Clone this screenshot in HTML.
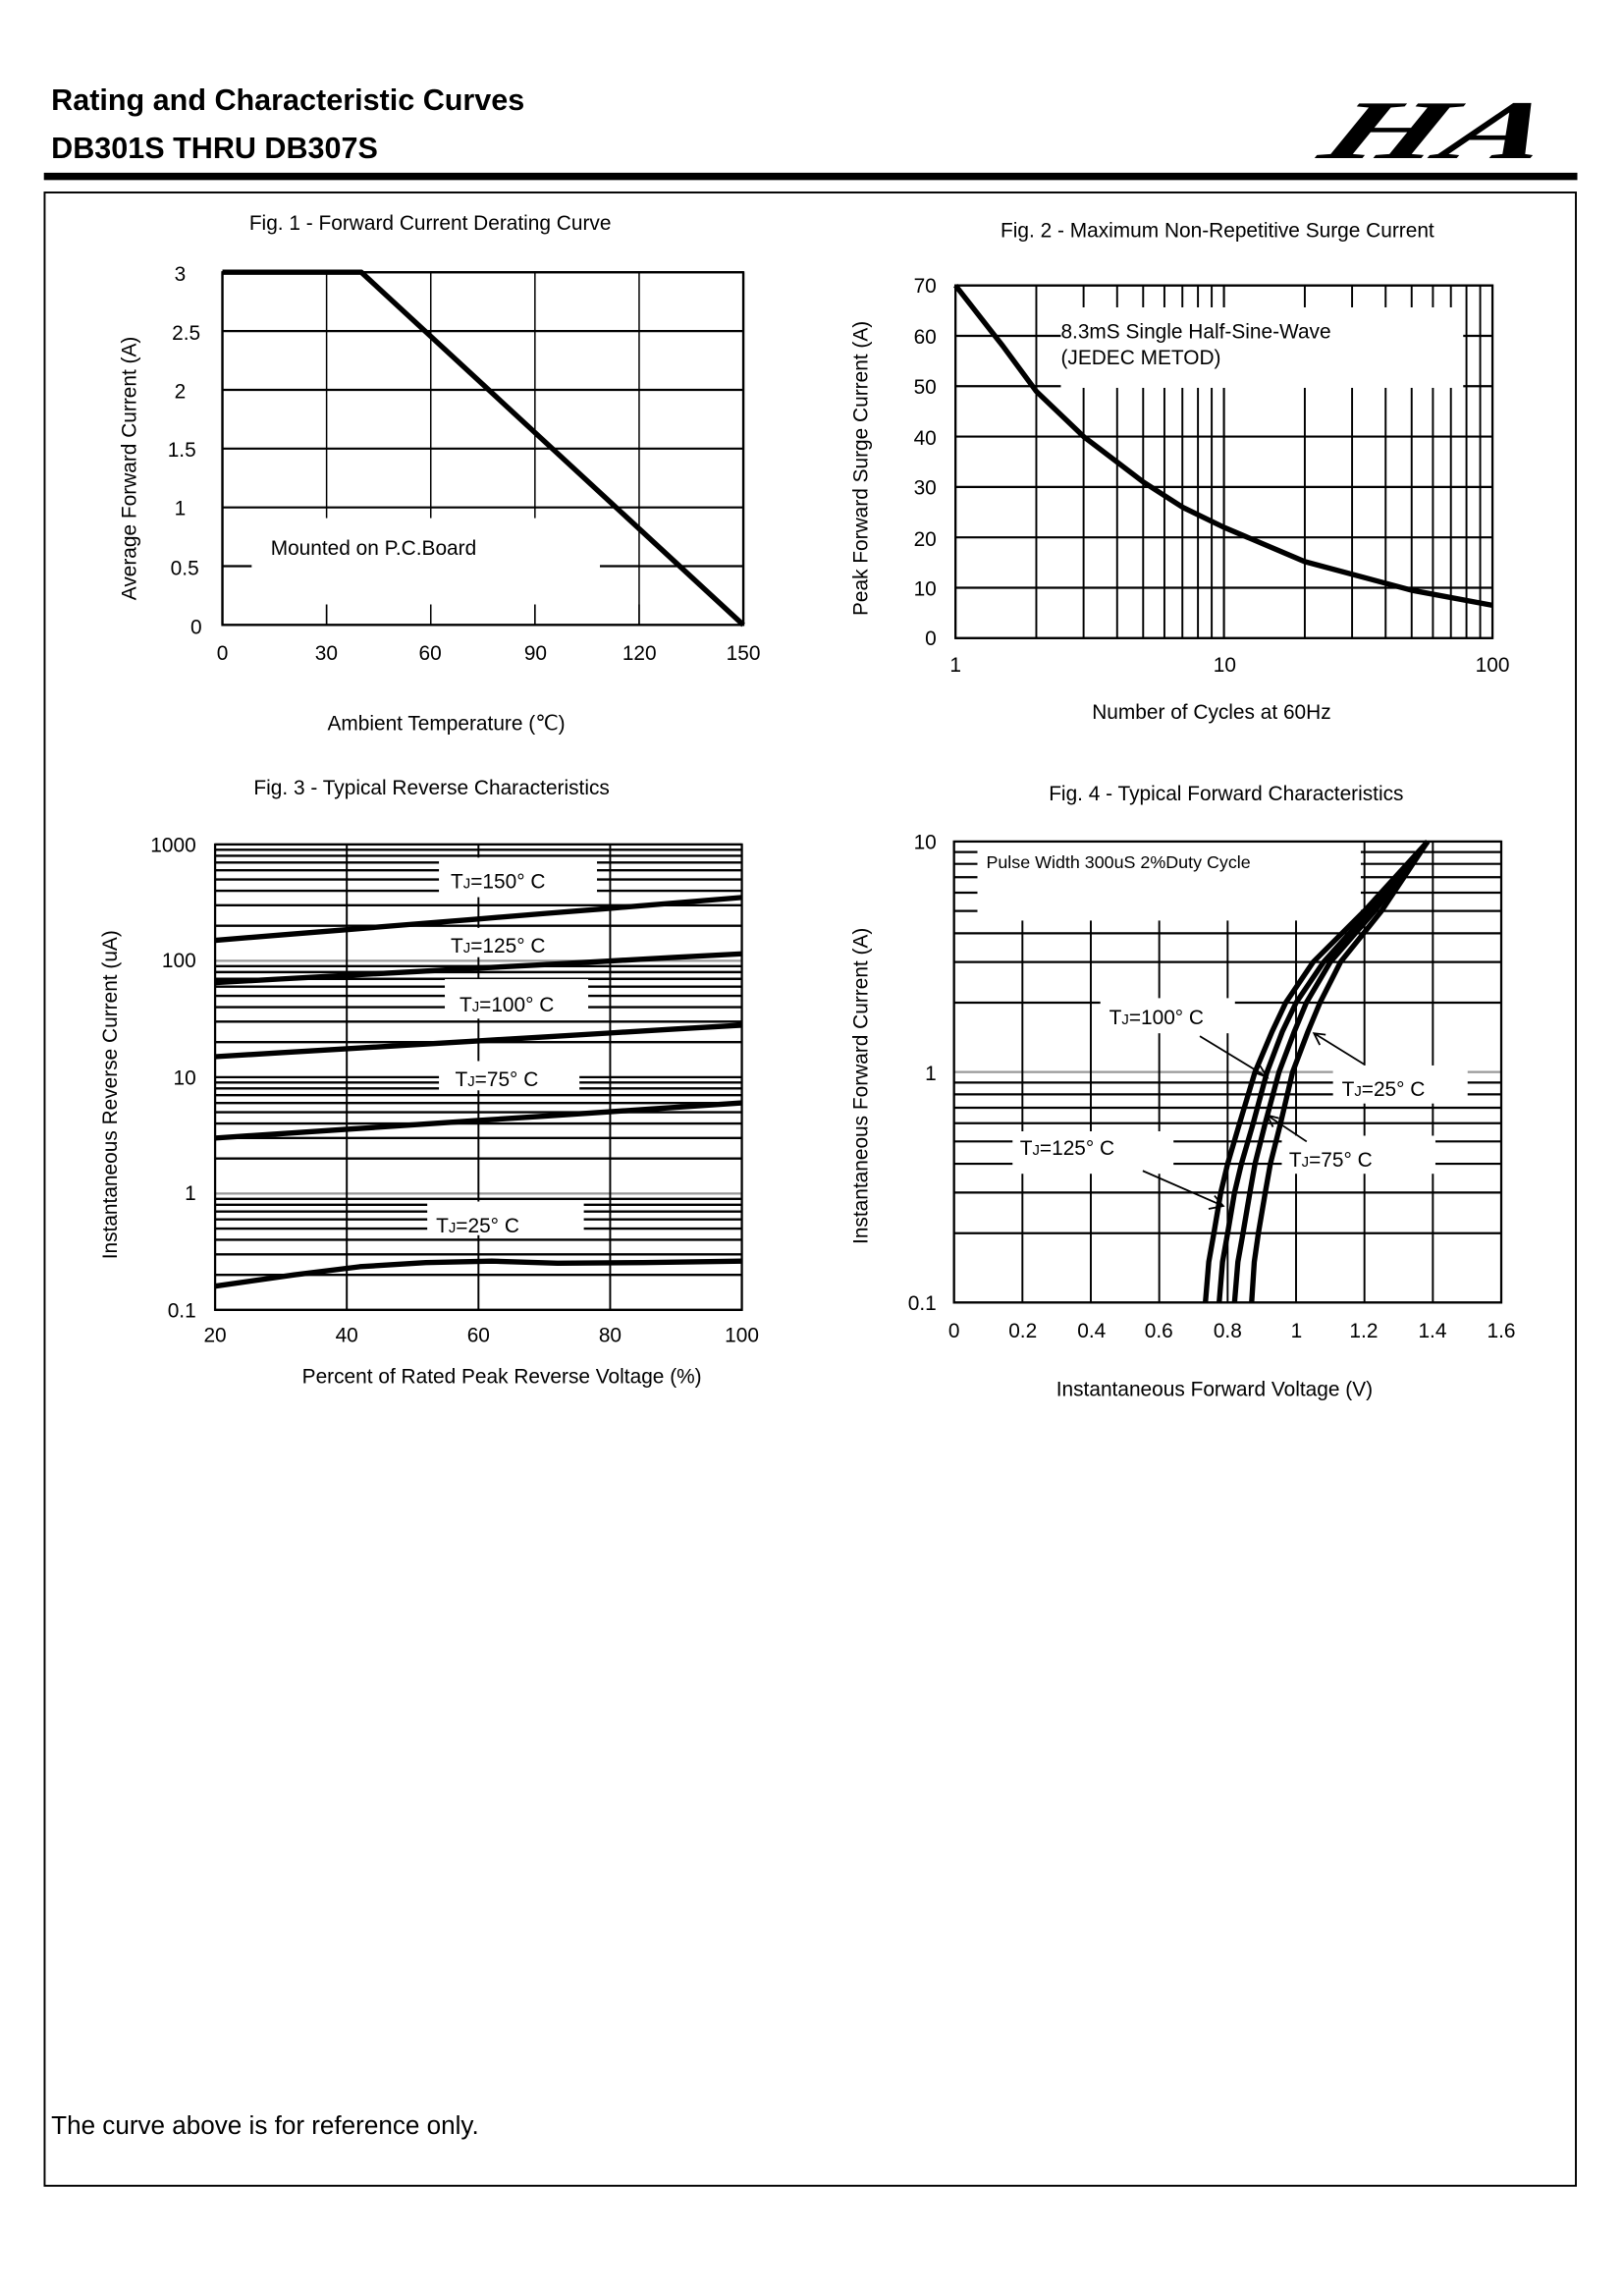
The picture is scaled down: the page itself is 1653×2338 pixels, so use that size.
<!DOCTYPE html>
<html><head><meta charset="utf-8"><style>
html,body{margin:0;padding:0;background:#fff}
svg{display:block}
text{font-family:"Liberation Sans",Arial,sans-serif;fill:#000}
</style></head><body>
<svg id="s" xmlns="http://www.w3.org/2000/svg" width="1653" height="2338" viewBox="0 0 1109.2 1568.8">
<rect width="1110" height="1570" fill="#fff"/>
<text x="35" y="75" font-size="20.5" font-weight="bold">Rating and Characteristic Curves</text>
<text x="35" y="108" font-size="20.5" font-weight="bold">DB301S THRU DB307S</text>
<text x="975" y="108" font-size="60" font-weight="bold" font-style="italic" text-anchor="middle" transform="translate(975,108) scale(1.75,0.95) skewX(-15) translate(-975,-108)" style="font-family:'Liberation Serif',serif">HA</text>
<rect x="30" y="118" width="1048" height="5" fill="#000"/>
<rect x="30.5" y="131.5" width="1046.5" height="1362" fill="none" stroke="#000" stroke-width="1.3"/>
<g id="grids"></g>
<g id="masks" fill="#fff">
 <rect x="172" y="354" width="238" height="59"/>
 <rect x="725" y="210" width="275" height="55"/>
 <rect x="300" y="586" width="108" height="27"/>
 <rect x="300" y="634" width="108" height="20"/>
 <rect x="304" y="669" width="98" height="27"/>
 <rect x="300" y="725" width="96" height="20"/>
 <rect x="292" y="821" width="107" height="23"/>
 <rect x="668" y="575" width="262" height="54"/>
 <rect x="752" y="682" width="92" height="24"/>
 <rect x="911" y="728" width="92" height="26"/>
 <rect x="692" y="773" width="110" height="29"/>
 <rect x="876" y="776" width="105" height="26"/>
</g>
<g id="ticks"></g>
<g id="curves" fill="none" stroke="#000" stroke-width="3.6" stroke-linejoin="round" stroke-linecap="butt"></g>
<g fill="none" stroke="#000" stroke-width="1.2">
 <path d="M820,708 L866,736 M858,733 L866,736 L861,728"/>
 <path d="M932,727 L898,706 M906,707 L898,706 L902,714"/>
 <path d="M893,780 L866,762 M870,770 L866,762 L874,764"/>
 <path d="M781,800 L836,824 M826,826 L836,824 L830,817"/>
</g>
<text x="294" y="157" font-size="14" text-anchor="middle">Fig. 1 - Forward Current Derating Curve</text>
<g font-size="14" text-anchor="end">
<text x="127" y="192">3</text><text x="137" y="232">2.5</text><text x="127" y="272">2</text><text x="134" y="312">1.5</text><text x="127" y="352">1</text><text x="136" y="393">0.5</text><text x="138" y="433">0</text></g>
<g font-size="14" text-anchor="middle">
<text x="152" y="451">0</text><text x="223" y="451">30</text><text x="294" y="451">60</text><text x="366" y="451">90</text><text x="437" y="451">120</text><text x="508" y="451">150</text></g>
<text x="305" y="499" font-size="14" text-anchor="middle">Ambient Temperature (℃)</text>
<text transform="translate(93,320) rotate(-90)" font-size="14" text-anchor="middle">Average Forward Current (A)</text>
<text x="185" y="379" font-size="14">Mounted on P.C.Board</text>
<text x="832" y="162" font-size="14" text-anchor="middle">Fig. 2 - Maximum Non-Repetitive Surge Current</text>
<g font-size="14" text-anchor="end">
<text x="640" y="200">70</text><text x="640" y="235">60</text><text x="640" y="269">50</text><text x="640" y="304">40</text><text x="640" y="338">30</text><text x="640" y="373">20</text><text x="640" y="407">10</text><text x="640" y="441">0</text></g>
<g font-size="14" text-anchor="middle">
<text x="653" y="459">1</text><text x="837" y="459">10</text><text x="1020" y="459">100</text></g>
<text x="828" y="491" font-size="14" text-anchor="middle">Number of Cycles at 60Hz</text>
<text transform="translate(593,320) rotate(-90)" font-size="14" text-anchor="middle">Peak Forward Surge Current (A)</text>
<text x="725" y="231" font-size="14">8.3mS Single Half-Sine-Wave</text>
<text x="725" y="249" font-size="14">(JEDEC METOD)</text>
<text x="295" y="543" font-size="14" text-anchor="middle">Fig. 3 - Typical Reverse Characteristics</text>
<g font-size="14" text-anchor="end">
<text x="134" y="582">1000</text><text x="134" y="661">100</text><text x="134" y="741">10</text><text x="134" y="820">1</text><text x="134" y="900">0.1</text></g>
<g font-size="14" text-anchor="middle">
<text x="147" y="917">20</text><text x="237" y="917">40</text><text x="327" y="917">60</text><text x="417" y="917">80</text><text x="507" y="917">100</text></g>
<text x="343" y="945" font-size="14" text-anchor="middle">Percent of Rated Peak Reverse Voltage (%)</text>
<text transform="translate(80,748) rotate(-90)" font-size="14" text-anchor="middle">Instantaneous Reverse Current (uA)</text>
<g font-size="14">
<text x="308" y="607">T<tspan font-size="10">J</tspan>=150° C</text>
<text x="308" y="651">T<tspan font-size="10">J</tspan>=125° C</text>
<text x="314" y="691">T<tspan font-size="10">J</tspan>=100° C</text>
<text x="311" y="742">T<tspan font-size="10">J</tspan>=75° C</text>
<text x="298" y="842">T<tspan font-size="10">J</tspan>=25° C</text></g>
<text x="838" y="547" font-size="14" text-anchor="middle">Fig. 4 - Typical Forward Characteristics</text>
<g font-size="14" text-anchor="end">
<text x="640" y="580">10</text><text x="640" y="738">1</text><text x="640" y="895">0.1</text></g>
<g font-size="14" text-anchor="middle">
<text x="652" y="914">0</text><text x="699" y="914">0.2</text><text x="746" y="914">0.4</text><text x="792" y="914">0.6</text><text x="839" y="914">0.8</text><text x="886" y="914">1</text><text x="932" y="914">1.2</text><text x="979" y="914">1.4</text><text x="1026" y="914">1.6</text></g>
<text x="830" y="954" font-size="14" text-anchor="middle">Instantaneous Forward Voltage (V)</text>
<text transform="translate(593,742) rotate(-90)" font-size="14" text-anchor="middle">Instantaneous Forward Current (A)</text>
<text x="674" y="593" font-size="12">Pulse Width 300uS 2%Duty Cycle</text>
<g font-size="14">
<text x="758" y="700">T<tspan font-size="10">J</tspan>=100° C</text>
<text x="917" y="749">T<tspan font-size="10">J</tspan>=25° C</text>
<text x="697" y="789">T<tspan font-size="10">J</tspan>=125° C</text>
<text x="881" y="797">T<tspan font-size="10">J</tspan>=75° C</text></g>
<text x="35" y="1458" font-size="17.5">The curve above is for reference only.</text>
</svg>
<script>
var NS="http://www.w3.org/2000/svg";
function L(g,x1,y1,x2,y2,w,c){var e=document.createElementNS(NS,"line");e.setAttribute("x1",x1);e.setAttribute("y1",y1);e.setAttribute("x2",x2);e.setAttribute("y2",y2);e.setAttribute("stroke",c||"#000");e.setAttribute("stroke-width",w||1);document.getElementById(g).appendChild(e);}
function P(d){var e=document.createElementNS(NS,"path");e.setAttribute("d",d);document.getElementById("curves").appendChild(e);}
function R(g,x,y,w,h,sw){var e=document.createElementNS(NS,"rect");e.setAttribute("x",x);e.setAttribute("y",y);e.setAttribute("width",w);e.setAttribute("height",h);e.setAttribute("fill","none");e.setAttribute("stroke","#000");e.setAttribute("stroke-width",sw);document.getElementById(g).appendChild(e);}
var lg=Math.log10;
for(var i=0;i<=5;i++){var x=152+i*71.2;L("grids",x,186,x,427,i==0||i==5?1.5:1);if(i>0&&i<5)L("ticks",x,413,x,427,1);}
for(var i=0;i<=6;i++){L("grids",152,186+i*40.17,508,186+i*40.17,1.5);}
R("ticks",152,186,356,241,1.5);
function f1(t,a){return [152+t*356/150,427-a*241/3];}
var a=f1(0,3),b=f1(40,3),c=f1(150,0);P("M"+a+" L"+b+" L"+c);
for(var d=0;d<2;d++)for(var n=1;n<=10;n++){var x=653+183.5*(d+lg(n));L("grids",x,195,x,436,1.3);}
for(var i=0;i<=7;i++){L("grids",653,195+i*34.43,1020,195+i*34.43,1.5);}
R("ticks",653,195,367,241,1.5);
function f2(n,v){return (653+183.5*lg(n)).toFixed(1)+","+(436-v*241/70).toFixed(1);}
P("M"+f2(1,70)+" L"+f2(1.5,58)+" L"+f2(2,49)+" L"+f2(3,40)+" L"+f2(5,31)+" L"+f2(7,26)+" L"+f2(10,22)+" L"+f2(20,15.2)+" L"+f2(50,9.5)+" L"+f2(100,6.5));
for(var d=-1;d<3;d++)for(var n=2;n<=9;n++){var y=895-79.5*(lg(n)+d+1);L("grids",147,y,507,y,1.6);}
for(var d=0;d<=4;d++){var y=895-79.5*d;L("grids",147,y,507,y,1.5,(d==1||d==3)?"#999":"#000");}
for(var i=0;i<=4;i++){L("grids",147+i*90,577,147+i*90,895,1.3);}
R("ticks",147,577,360,318,1.5);
function f3(p,v){return (147+(p-20)*4.5).toFixed(1)+","+(895-79.5*(lg(v)+1)).toFixed(1);}
function logline(a,b){var s="";for(var p=20;p<=100;p+=10){var v=Math.pow(10,lg(a)+(lg(b)-lg(a))*(p-20)/80);s+=(s?" L":"M")+f3(p,v);}P(s);}
logline(150,350);logline(65,115);logline(15,28);logline(3,6);
P("M"+f3(20,0.16)+" L"+f3(32,0.2)+" L"+f3(42,0.235)+" L"+f3(52,0.255)+" L"+f3(62,0.262)+" L"+f3(72,0.252)+" L"+f3(85,0.255)+" L"+f3(100,0.262));
for(var d=-1;d<1;d++)for(var n=2;n<=9;n++){var y=890-157.5*(lg(n)+d+1);L("grids",652,y,1026,y,1.5);}
for(var d=0;d<=2;d++){var y=890-157.5*d;L("grids",652,y,1026,y,1.5,d==1?"#999":"#000");}
for(var i=0;i<=8;i++){L("grids",652+i*46.75,575,652+i*46.75,890,1.3);}
R("ticks",652,575,374,315,1.5);
function f4(v,a){return (652+v*233.75).toFixed(1)+","+(890-157.5*(lg(a)+1)).toFixed(1);}
function fc(pts){var s="";pts.forEach(function(q){s+=(s?" L":"M")+f4(q[0],q[1]);});P(s);}
fc([[0.735,0.1],[0.745,0.15],[0.76,0.2],[0.78,0.3],[0.80,0.4],[0.835,0.6],[0.88,1],[0.93,1.5],[0.97,2],[1.05,3],[1.2,5],[1.385,10]]);
fc([[0.775,0.1],[0.785,0.15],[0.80,0.2],[0.82,0.3],[0.84,0.4],[0.875,0.6],[0.915,1],[0.96,1.5],[1.0,2],[1.08,3],[1.215,5],[1.385,10]]);
fc([[0.82,0.1],[0.83,0.15],[0.845,0.2],[0.865,0.3],[0.88,0.4],[0.91,0.6],[0.95,1],[0.995,1.5],[1.03,2],[1.1,3],[1.23,5],[1.385,10]]);
fc([[0.87,0.1],[0.878,0.15],[0.89,0.2],[0.91,0.3],[0.925,0.4],[0.955,0.6],[0.99,1],[1.035,1.5],[1.07,2],[1.13,3],[1.25,5],[1.385,10]]);
</script>
</body></html>
